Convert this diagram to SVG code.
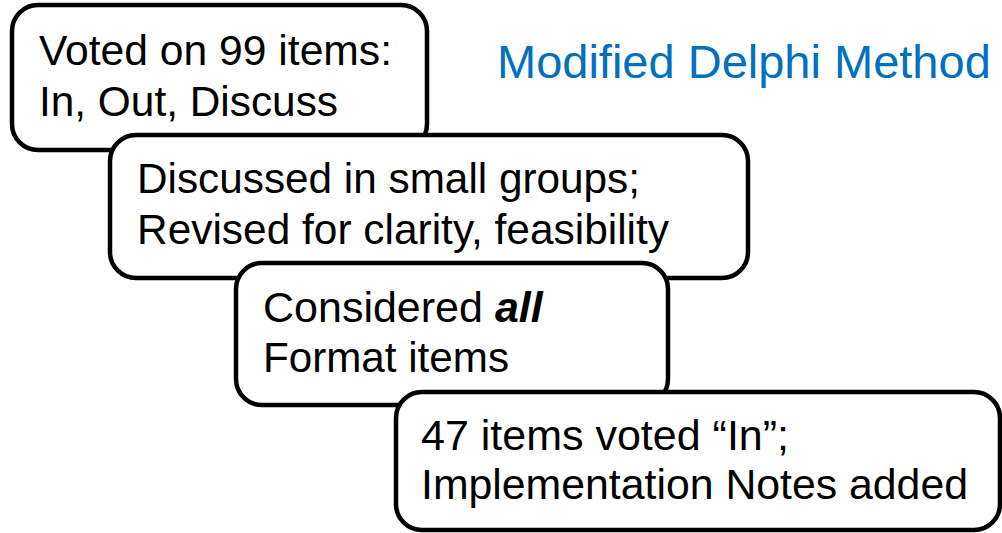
<svg xmlns="http://www.w3.org/2000/svg" width="1002" height="533" viewBox="0 0 1002 533">
<style>
.box{fill:#fff;stroke:#000;stroke-width:4.5}
.t{font-family:"Liberation Sans",Arial,sans-serif;font-size:43px;fill:#000}
.title{font-family:"Liberation Sans",Arial,sans-serif;font-size:47px;fill:#0070C0}
</style>
<rect width="1002" height="533" fill="#fff"/>
<text class="title" x="497" y="78">Modified Delphi Method</text>
<g id="connectors"/>
<g id="n1">
<rect class="box" x="12" y="5" width="415" height="145" rx="26"/>
<text class="t" x="39" y="65" textLength="353" lengthAdjust="spacingAndGlyphs">Voted on 99 items:</text>
<text class="t" x="39" y="115.5" textLength="299" lengthAdjust="spacingAndGlyphs">In, Out, Discuss</text>
</g>
<g id="n2">
<rect class="box" x="110" y="135" width="638" height="143" rx="26"/>
<text class="t" x="137" y="193" textLength="503" lengthAdjust="spacingAndGlyphs">Discussed in small groups;</text>
<text class="t" x="137" y="244" textLength="532" lengthAdjust="spacingAndGlyphs">Revised for clarity, feasibility</text>
</g>
<g id="n3">
<rect class="box" x="236" y="263" width="432" height="142" rx="26"/>
<text class="t" x="263" y="322">Considered <tspan font-weight="bold" font-style="italic">all</tspan></text>
<text class="t" x="263" y="372" textLength="246" lengthAdjust="spacingAndGlyphs">Format items</text>
</g>
<g id="n4">
<rect class="box" x="396" y="392" width="604" height="138" rx="26"/>
<text class="t" x="421" y="450">47 items voted “In”;</text>
<text class="t" x="421" y="499" textLength="547" lengthAdjust="spacingAndGlyphs">Implementation Notes added</text>
</g>
</svg>
